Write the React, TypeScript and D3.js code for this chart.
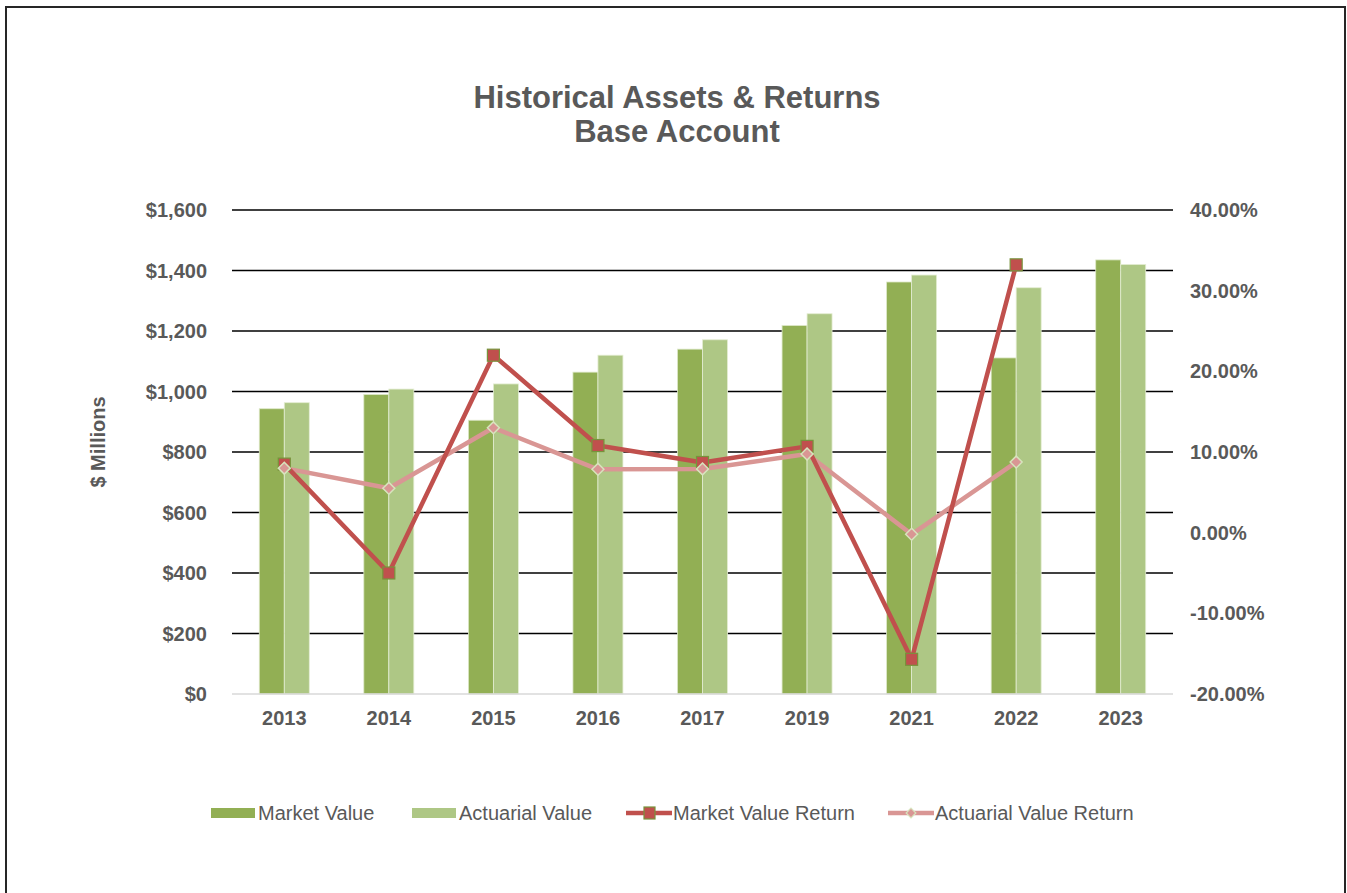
import React from "react";
import * as d3 from "d3";

const categories = ["2013", "2014", "2015", "2016", "2017", "2019", "2021", "2022", "2023"];
const marketValue = [943, 990, 905, 1064, 1140, 1218, 1362, 1111, 1435];
const actuarialValue = [963, 1008, 1025, 1120, 1171, 1257, 1385, 1343, 1420];
const marketReturn: (number | null)[] = [8.5, -5.0, 22.0, 10.8, 8.7, 10.7, -15.7, 33.2, null];
const actuarialReturn: (number | null)[] = [8.0, 5.5, 13.0, 7.85, 7.9, 9.75, -0.2, 8.75, null];
const leftTicks = [0, 200, 400, 600, 800, 1000, 1200, 1400, 1600];
const rightTicks = [-20, -10, 0, 10, 20, 30, 40];

const W = 1347;
const H = 893;
const plot = { left: 232, right: 1173, top: 210, bottom: 694 };
const FONT = "'Liberation Sans', Arial, sans-serif";
const TXT = "#595959";
const C_MV = "#92AF54";
const C_AV = "#AEC785";
const C_MVR = "#C0504D";
const C_AVR = "#D99694";

export default function App() {
  const x = d3.scaleBand<string>().domain(categories).range([plot.left, plot.right]).padding(0);
  const yL = d3.scaleLinear().domain([0, 1600]).range([plot.bottom, plot.top]);
  const yR = d3.scaleLinear().domain([-20, 40]).range([plot.bottom, plot.top]);
  const barW = 25;
  const cx = (c: string) => (x(c) as number) + x.bandwidth() / 2;

  const lineGen = d3
    .line<number | null>()
    .defined((d) => d !== null)
    .x((_, i) => cx(categories[i]))
    .y((d) => yR(d as number));

  const fmtL = (v: number) => "$" + d3.format(",")(v);
  const fmtR = (v: number) => v.toFixed(2) + "%";

  return (
    <svg
      width={W}
      height={H}
      style={{ position: "absolute", left: 0, top: 0, display: "block", background: "#fff" }}
      fontFamily={FONT}
    >
      <rect x={6} y={7} width={1339} height={H + 20} fill="#fff" stroke="#262626" strokeWidth={2} />

      <text x={677} y={108} textAnchor="middle" fontSize={31} fontWeight="bold" fill={TXT}>
        Historical Assets &amp; Returns
      </text>
      <text x={677} y={142} textAnchor="middle" fontSize={31} fontWeight="bold" fill={TXT}>
        Base Account
      </text>

      {leftTicks.map((t) =>
        t === 0 ? null : (
          <line key={"g" + t} x1={plot.left} x2={plot.right} y1={yL(t)} y2={yL(t)} stroke="#000" strokeWidth={1.5} />
        )
      )}

      {categories.map((c, i) => (
        <g key={c}>
          <rect
            x={cx(c) - barW}
            y={yL(marketValue[i])}
            width={barW}
            height={yL(0) - yL(marketValue[i])}
            fill={C_MV}
            stroke="#DDE8C8"
            strokeWidth={0.8}
          />
          <rect
            x={cx(c)}
            y={yL(actuarialValue[i])}
            width={barW}
            height={yL(0) - yL(actuarialValue[i])}
            fill={C_AV}
            stroke="#E4EDD3"
            strokeWidth={0.8}
          />
        </g>
      ))}

      <line x1={plot.left} x2={plot.right} y1={yL(0)} y2={yL(0)} stroke="#D9D9D9" strokeWidth={1.5} />

      <path d={lineGen(actuarialReturn) || ""} fill="none" stroke={C_AVR} strokeWidth={4.5} strokeLinejoin="round" />
      <path d={lineGen(marketReturn) || ""} fill="none" stroke={C_MVR} strokeWidth={4.5} strokeLinejoin="round" />

      {marketReturn.map((v, i) =>
        v === null ? null : (
          <rect
            key={"m" + i}
            x={cx(categories[i]) - 6}
            y={yR(v) - 6}
            width={12}
            height={12}
            fill={C_MVR}
            stroke="#77933C"
            strokeWidth={1.2}
          />
        )
      )}
      {actuarialReturn.map((v, i) =>
        v === null ? null : (
          <path
            key={"a" + i}
            d={d3.symbol().type(d3.symbolDiamond2).size(90)() || ""}
            transform={`translate(${cx(categories[i])},${yR(v)})`}
            fill={C_AVR}
            stroke="#D7E4BD"
            strokeWidth={1.5}
          />
        )
      )}

      {leftTicks.map((t) => (
        <text key={"l" + t} x={207} y={yL(t)} dy="0.35em" textAnchor="end" fontSize={20} fontWeight="bold" fill={TXT}>
          {fmtL(t)}
        </text>
      ))}
      {rightTicks.map((t) => (
        <text key={"r" + t} x={1190} y={yR(t)} dy="0.35em" textAnchor="start" fontSize={20} fontWeight="bold" fill={TXT}>
          {fmtR(t)}
        </text>
      ))}
      {categories.map((c) => (
        <text key={"x" + c} x={cx(c)} y={718} dy="0.35em" textAnchor="middle" fontSize={20} fontWeight="bold" fill={TXT}>
          {c}
        </text>
      ))}
      <text
        transform={`translate(98,442) rotate(-90)`}
        textAnchor="middle"
        dy="0.35em"
        fontSize={20}
        fontWeight="bold"
        fill={TXT}
      >
        $ Millions
      </text>

      <g fontSize={20} fill={TXT}>
        <rect x={211} y={808} width={44} height={10} fill={C_MV} />
        <text x={258} y={813} dy="0.35em">Market Value</text>
        <rect x={412} y={808} width={44} height={10} fill={C_AV} />
        <text x={459} y={813} dy="0.35em">Actuarial Value</text>
        <line x1={626} x2={672} y1={813} y2={813} stroke={C_MVR} strokeWidth={4.5} />
        <rect x={644} y={807} width={11} height={12} fill={C_MVR} stroke="#77933C" strokeWidth={1.2} />
        <text x={673} y={813} dy="0.35em">Market Value Return</text>
        <line x1={888} x2={934} y1={813} y2={813} stroke={C_AVR} strokeWidth={4.5} />
        <path
          d={d3.symbol().type(d3.symbolDiamond2).size(60)() || ""}
          transform="translate(911,813)"
          fill={C_AVR}
          stroke="#D7E4BD"
          strokeWidth={1.2}
        />
        <text x={935} y={813} dy="0.35em">Actuarial Value Return</text>
      </g>
    </svg>
  );
}
